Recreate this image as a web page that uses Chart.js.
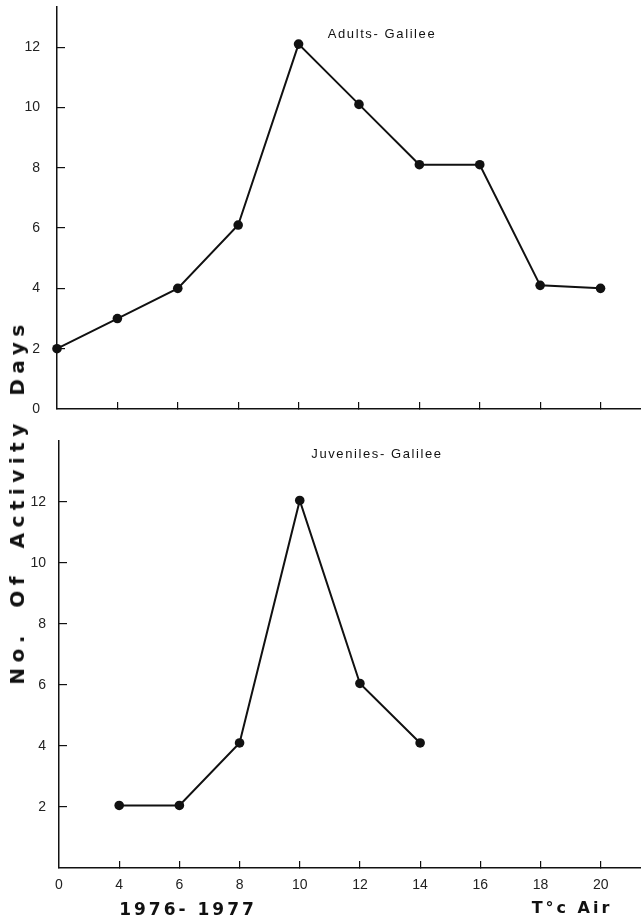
<!DOCTYPE html>
<html>
<head>
<meta charset="utf-8">
<script src="https://cdn.jsdelivr.net/npm/chart.js@4.4.1/dist/chart.umd.min.js"></script>
<style>
  body { margin: 0; background: #fff; }
  #wrap { position: relative; width: 641px; height: 919px; overflow: hidden; color: #111; font-family: "Liberation Sans", Arial, sans-serif; }
  canvas { position: absolute; left: 0; }
  #adultsChart { top: 0; }
  #juvenilesChart { top: 425px; }
  .txt { position: absolute; white-space: nowrap; transform: translate(-50%, -50%); }
  .panel-title { font-size: 13px; letter-spacing: 1.6px; }
  .heavy { font-family: "DejaVu Sans", sans-serif; font-weight: bold; }
  #yTitle { left: 17px; top: 502px; font-size: 20px; letter-spacing: 5.5px; word-spacing: 10px; transform: translate(-50%, -50%) rotate(-90deg); }
  #yearsLabel { left: 188px; top: 909px; font-size: 17px; letter-spacing: 3px; }
  #airLabel { left: 572px; top: 907px; font-size: 16px; letter-spacing: 3px; }
</style>
</head>
<body>
<div id="wrap">
  <canvas id="adultsChart" width="641" height="425"></canvas>
  <canvas id="juvenilesChart" width="641" height="494"></canvas>
  <div class="txt panel-title" style="left:382px; top:33px;">Adults- Galilee</div>
  <div class="txt panel-title" style="left:377px; top:453px;">Juveniles- Galilee</div>
  <div id="yTitle" class="txt heavy">No. Of Activity Days</div>
  <div id="yearsLabel" class="txt heavy">1976- 1977</div>
  <div id="airLabel" class="txt heavy">T°c Air</div>
</div>

<script>
// temperature classes (°C air), evenly spaced on the axis
const tempLabels = ['0', '4', '6', '8', '10', '12', '14', '16', '18', '20'];

// number of activity days per temperature class
const adultDays = [2.0, 3.0, 4.0, 6.1, 12.1, 10.1, 8.1, 8.1, 4.1, 4.0];
const juvenileDays = [null, 2.05, 2.05, 4.1, 12.05, 6.05, 4.1];

const adultYTicks = [0, 2, 4, 6, 8, 10, 12];
const juvenileYTicks = [2, 4, 6, 8, 10, 12];

const INK = '#111';

// index -> {x, y} points, skipping classes with no data
function toPoints(values) {
  return values
    .map((v, i) => ({ x: i, y: v }))
    .filter(p => p.y !== null);
}

// hide the tick mark that would sit on the other axis
function tickColor(ctx) {
  return ctx.tick && ctx.tick.value === 0 ? 'rgba(0,0,0,0)' : INK;
}

// fixed scale sizes, and no extra label padding pushed into the layout
function lockSize(s, w, h) {
  if (w !== null) s.width = w;
  if (h !== null) s.height = h;
  s.paddingTop = 0;
  s.paddingBottom = 0;
  s.paddingLeft = 0;
  s.paddingRight = 0;
}

function makePanel(id, values, cfg) {
  const ctx = document.getElementById(id).getContext('2d');

  return new Chart(ctx, {
    type: 'line',
    data: {
      datasets: [{
        data: toPoints(values),
        borderColor: INK,
        borderWidth: 2,
        backgroundColor: INK,
        pointRadius: 4.8,
        pointHoverRadius: 4.8,
        pointBorderWidth: 0,
        tension: 0,
        clip: false
      }]
    },
    options: {
      responsive: false,
      animation: false,
      events: [],
      layout: { autoPadding: false, padding: { top: cfg.padTop, right: 0, bottom: 0, left: 0 } },
      plugins: { legend: { display: false }, tooltip: { enabled: false } },
      scales: {
        x: {
          type: 'linear',
          min: 0,
          max: 9.67,
          afterBuildTicks: s => { s.ticks = tempLabels.map((_, i) => ({ value: i })); },
          afterFit: s => lockSize(s, null, cfg.xHeight),
          border: { display: true, color: INK, width: 1.5 },
          grid: { drawOnChartArea: false, drawTicks: true, tickLength: -7, color: tickColor, lineWidth: 1.2 },
          ticks: {
            display: cfg.showXLabels,
            padding: 16,
            maxRotation: 0,
            autoSkip: false,
            color: '#222',
            font: { family: '"Liberation Sans", Arial, sans-serif', size: 14 },
            callback: v => tempLabels[v]
          }
        },
        y: {
          min: 0,
          max: cfg.yMax,
          afterBuildTicks: s => { s.ticks = cfg.yTicks.map(v => ({ value: v })); },
          afterFit: s => lockSize(s, cfg.axisLeft, null),
          border: { display: true, color: INK, width: 1.5 },
          grid: { drawOnChartArea: false, drawTicks: true, tickLength: -8, color: tickColor, lineWidth: 1.2 },
          ticks: {
            padding: cfg.yPad,
            color: '#222',
            font: { family: '"Liberation Sans", Arial, sans-serif', size: 14 }
          }
        }
      }
    }
  });
}

// upper panel: adults
makePanel('adultsChart', adultDays, {
  padTop: 7, xHeight: 16, yMax: 13.33, yTicks: adultYTicks,
  axisLeft: 57, yPad: 25, showXLabels: false
});

// lower panel: juveniles, carries the temperature labels
makePanel('juvenilesChart', juvenileDays, {
  padTop: 16, xHeight: 51, yMax: 14, yTicks: juvenileYTicks,
  axisLeft: 59, yPad: 21, showXLabels: true
});
</script>
</body>
</html>
